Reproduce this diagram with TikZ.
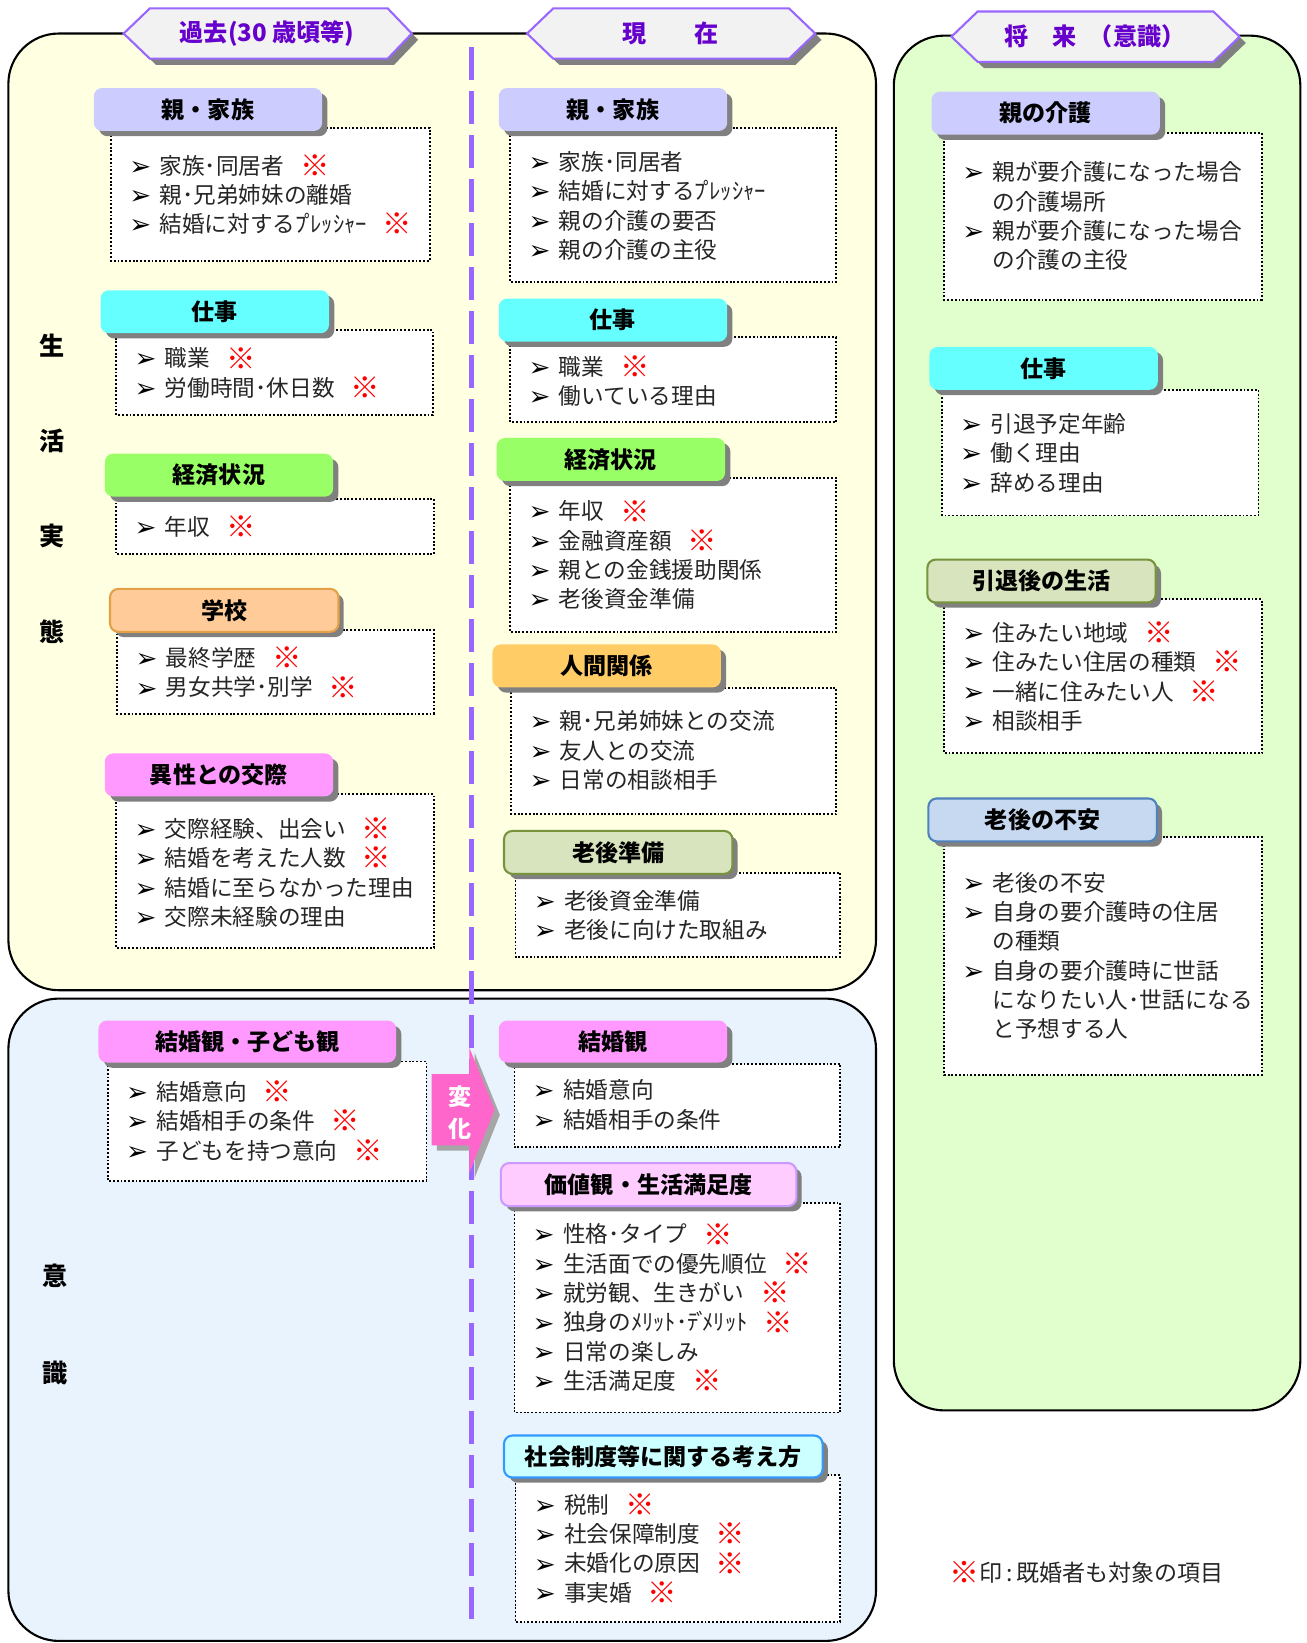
\documentclass[tikz,border=0pt]{standalone}
\usepackage{fontspec}
\setmainfont{Noto Sans CJK JP}
\newfontfamily\symfont{DejaVu Sans}
\usepackage{tikz}
\usetikzlibrary{shadows}
\usepackage{xcolor}

\definecolor{lav}{RGB}{204,204,255}
\definecolor{cyanhd}{RGB}{102,255,255}
\definecolor{greenhd}{RGB}{153,255,102}
\definecolor{peach}{RGB}{255,204,153}
\definecolor{peachline}{RGB}{228,160,70}
\definecolor{gold}{RGB}{255,204,102}
\definecolor{pinkhd}{RGB}{255,153,255}
\definecolor{olive}{RGB}{215,228,189}
\definecolor{oliveline}{RGB}{119,147,60}
\definecolor{lightpink}{RGB}{255,204,255}
\definecolor{lightpinkline}{RGB}{204,153,255}
\definecolor{lightcyan}{RGB}{204,255,255}
\definecolor{lightcyanline}{RGB}{51,153,255}
\definecolor{steel}{RGB}{198,217,241}
\definecolor{steelline}{RGB}{79,129,189}
\definecolor{bannerline}{RGB}{153,102,255}
\definecolor{bannertext}{RGB}{102,0,204}
\definecolor{arrowpink}{RGB}{255,102,204}
\definecolor{paneyellow}{RGB}{255,255,226}
\definecolor{paneblue}{RGB}{232,243,253}
\definecolor{panegreen}{RGB}{225,255,204}

\newcommand{\bul}{\makebox[14.5pt][l]{\raisebox{-0.5pt}{\symfont\fontsize{12.5pt}{14pt}\selectfont\color{black}➢}}}
\newcommand{\komemark}{\textcolor{red}{\raisebox{-1pt}{\scalebox{1.3}{\bfseries ※}}}}
\newcommand{\kome}{\hspace{0.7em}\komemark}
\newcommand{\wrapin}{\hspace*{14.5pt}}
\newcommand{\pu}{ﾌ\kern-0.12emﾟ\kern-0.22em}
\newcommand{\de}{ﾃ\kern-0.12emﾞ\kern-0.22em}

\begin{document}
\begin{tikzpicture}[x=0.5pt,y=-0.5pt,
  panel/.style={draw=black, line width=1pt, rounded corners=24pt},
  itembox/.style={draw=black, line width=0.9pt, dash pattern=on 0.9pt off 0.9pt, fill=white},
  head/.style={rounded corners=4pt, minimum width=109pt, minimum height=20.5pt, inner sep=0pt,
    font=\fontsize{11pt}{13pt}\selectfont\bfseries,
    drop shadow={shadow xshift=2.5pt, shadow yshift=-2.5pt, fill=black!50, opacity=1}},
  items/.style={anchor=north west, inner sep=0pt, align=left, text=black!85,
    font=\fontsize{10.8pt}{14pt}\selectfont},
  banner/.style={draw=bannerline, line width=1pt, fill=black!5,
    drop shadow={shadow xshift=3pt, shadow yshift=-3pt, fill=black!50, opacity=1}},
  bantext/.style={text=bannertext, font=\fontsize{11.5pt}{13pt}\selectfont\bfseries},
  side/.style={font=\fontsize{12pt}{14pt}\selectfont\bfseries}]
\useasboundingbox (0,0) rectangle (1247,1568);
%% \draw[help lines, step=50] (0,0) grid (1247,1568);

% panels
\draw[panel, fill=paneyellow] (8,32) rectangle (836,945);
\draw[panel, fill=paneblue] (8,953) rectangle (836,1566);
\draw[panel, fill=panegreen] (853,34) rectangle (1241,1346);
\draw[bannerline, line width=2pt, dash pattern=on 15.5pt off 5.5pt] (450,45) -- (450,1545);

% side labels
\node[side] (sei) at (50,330) {生};
\node[side] (katsu) at (50,421) {活};
\node[side] (jitsu) at (50,512) {実};
\node[side] (tai) at (50,603) {態};
\node[side] (i) at (53,1218) {意};
\node[side] (shiki) at (53,1310) {識};

% past
\draw[itembox] (106,122) rectangle (410,249);
\node[head, fill=lav] (pfam) at (198.5,104.5) {親・家族};
\node[items] (pfamtx) at (123,147) {\bul 家族･同居者\kome\\ \bul 親･兄弟姉妹の離婚\\ \bul 結婚に対する\pu ﾚｯｼｬｰ\kome};

\draw[itembox] (111,315) rectangle (413,396);
\node[head, fill=cyanhd] (pwork) at (205,297.5) {仕事};
\node[items] (pworktx) at (128,331) {\bul 職業\kome\\ \bul 労働時間･休日数\kome};

\draw[itembox] (111,476) rectangle (414,529);
\node[head, fill=greenhd] (pecon) at (209,453.5) {経済状況};
\node[items] (pecontx) at (128,492) {\bul 年収\kome};

\draw[itembox] (112,601) rectangle (414,681);
\node[head, fill=peach, draw=peachline, line width=1pt] (pschool) at (214,582.5) {学校};
\node[items] (pschooltx) at (129,617) {\bul 最終学歴\kome\\ \bul 男女共学･別学\kome};

\draw[itembox] (111,758) rectangle (414,905);
\node[head, fill=pinkhd] (pdate) at (209,739.5) {異性との交際};
\node[items] (pdatetx) at (128,780) {\bul 交際経験、出会い\kome\\ \bul 結婚を考えた人数\kome\\ \bul 結婚に至らなかった理由\\ \bul 交際未経験の理由};

% present
\draw[itembox] (487,122) rectangle (798,269);
\node[head, fill=lav] (nfam) at (585,104.5) {親・家族};
\node[items] (nfamtx) at (504,144) {\bul 家族･同居者\\ \bul 結婚に対する\pu ﾚｯｼｬｰ\\ \bul 親の介護の要否\\ \bul 親の介護の主役};

\draw[itembox] (487,322) rectangle (798,403);
\node[head, fill=cyanhd] (nwork) at (585,305.5) {仕事};
\node[items] (nworktx) at (504,339) {\bul 職業\kome\\ \bul 働いている理由};

\draw[itembox] (487,456) rectangle (798,603);
\node[head, fill=greenhd] (necon) at (583,438.5) {経済状況};
\node[items] (necontx) at (504,477) {\bul 年収\kome\\ \bul 金融資産額\kome\\ \bul 親との金銭援助関係\\ \bul 老後資金準備};

\draw[itembox] (488,657) rectangle (798,777);
\node[head, fill=gold] (nrel) at (579,635.5) {人間関係};
\node[items] (nreltx) at (505,678) {\bul 親･兄弟姉妹との交流\\ \bul 友人との交流\\ \bul 日常の相談相手};

\draw[itembox] (492,833) rectangle (802,913);
\node[head, fill=olive, draw=oliveline, line width=1pt] (nold) at (590,813.5) {老後準備};
\node[items] (noldtx) at (509,849) {\bul 老後資金準備\\ \bul 老後に向けた取組み};

% views
\draw[itembox] (103,1013) rectangle (407,1127);
\node[head, fill=pinkhd, minimum width=142pt, minimum height=20pt] (pview) at (236,994) {結婚観・子ども観};
\node[items] (pviewtx) at (120,1031) {\bul 結婚意向\kome\\ \bul 結婚相手の条件\kome\\ \bul 子どもを持つ意向\kome};

\draw[itembox] (491,1015) rectangle (802,1095);
\node[head, fill=pinkhd, minimum height=20pt] (nview) at (585,994) {結婚観};
\node[items] (nviewtx) at (508,1030) {\bul 結婚意向\\ \bul 結婚相手の条件};

\draw[itembox] (491,1148) rectangle (802,1348);
\node[head, fill=lightpink, draw=lightpinkline, line width=1pt, minimum width=141pt] (nvalue) at (619,1130.5) {価値観・生活満足度};
\node[items] (nvaluetx) at (508,1167) {\bul 性格･タイプ\kome\\ \bul 生活面での優先順位\kome\\ \bul 就労観、生きがい\kome\\ \bul 独身のﾒﾘｯﾄ･\de ﾒﾘｯﾄ\kome\\ \bul 日常の楽しみ\\ \bul 生活満足度\kome};

\draw[itembox] (492,1408) rectangle (802,1548);
\node[head, fill=lightcyan, draw=lightcyanline, line width=1pt, minimum width=152pt, minimum height=20pt] (nsys) at (633,1390) {社会制度等に関する考え方};
\node[items] (nsystx) at (509,1425) {\bul 税制\kome\\ \bul 社会保障制度\kome\\ \bul 未婚化の原因\kome\\ \bul 事実婚\kome};

% future
\draw[itembox] (901,127) rectangle (1204,286);
\node[head, fill=lav] (fcare) at (998,108) {親の介護};
\node[items] (fcaretx) at (918,154) {\bul 親が要介護になった場合\\ \wrapin の介護場所\\ \bul 親が要介護になった場合\\ \wrapin の介護の主役};

\draw[itembox] (899,372) rectangle (1201,492);
\node[head, fill=cyanhd] (fwork) at (996,351.5) {仕事};
\node[items] (fworktx) at (916,394) {\bul 引退予定年齢\\ \bul 働く理由\\ \bul 辞める理由};

\draw[itembox] (901,572) rectangle (1204,719);
\node[head, fill=olive, draw=oliveline, line width=1pt] (fretire) at (994,554.5) {引退後の生活};
\node[items] (fretiretx) at (918,593) {\bul 住みたい地域\kome\\ \bul 住みたい住居の種類\kome\\ \bul 一緒に住みたい人\kome\\ \bul 相談相手};

\draw[itembox] (901,799) rectangle (1204,1026);
\node[head, fill=steel, draw=steelline, line width=1pt] (fworry) at (995,782.5) {老後の不安};
\node[items] (fworrytx) at (918,832) {\bul 老後の不安\\ \bul 自身の要介護時の住居\\ \wrapin の種類\\ \bul 自身の要介護時に世話\\ \wrapin になりたい人･世話になる\\ \wrapin と予想する人};

% banners
\draw[banner] (118,32) -- (143,8) -- (370,8) -- (393,32) -- (370,56) -- (143,56) -- cycle;
\node[bantext] (past) at (255,32) {過去(30 歳頃等)};
\draw[banner] (503,32) -- (528,8) -- (753,8) -- (778,32) -- (753,56) -- (528,56) -- cycle;
\node[bantext] (now) at (640,32) {現\hspace{2em}在};
\draw[banner] (908,35) -- (933,11) -- (1158,11) -- (1183,35) -- (1158,59) -- (933,59) -- cycle;
\node[bantext] (future) at (1045,35) {将\hspace{1em}来\hspace{0.5em}（意識）};

% change arrow
\draw[fill=arrowpink, draw=none, drop shadow={shadow xshift=2.5pt, shadow yshift=-2.5pt, fill=black!35, opacity=1}]
  (412,1025) -- (448,1025) -- (448,1000) -- (472,1059) -- (448,1119) -- (448,1093) -- (412,1093) -- cycle;
\node[text=white, font=\fontsize{11pt}{13pt}\selectfont\bfseries] (hen) at (439,1047) {変};
\node[text=white, font=\fontsize{11pt}{13pt}\selectfont\bfseries] (ka) at (439,1077) {化};

% note
\node[font=\fontsize{11pt}{13pt}\selectfont, text=black!85] (note) at (1037,1501) {\komemark 印\,:\,既婚者も対象の項目};
\end{tikzpicture}
\end{document}
